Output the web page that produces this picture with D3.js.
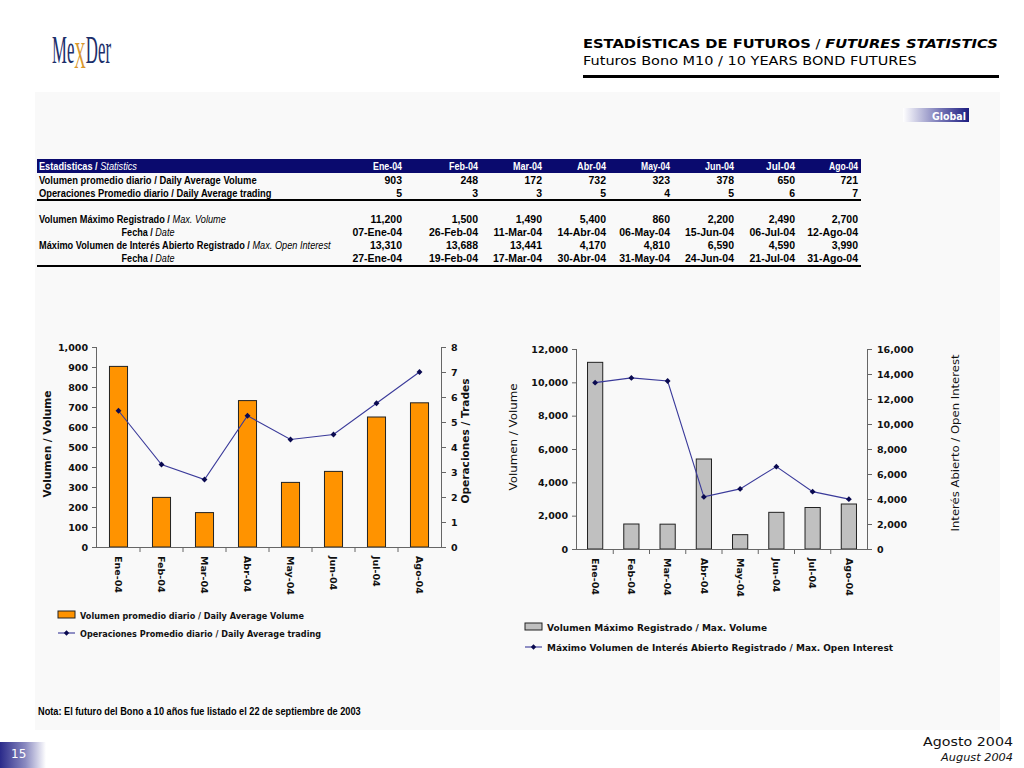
<!DOCTYPE html>
<html><head><meta charset="utf-8">
<script src="https://cdn.jsdelivr.net/npm/d3@7"></script>
<style>
html,body{margin:0;padding:0;background:#fff;}
svg{display:block;}
</style></head>
<body>
<svg id="c" width="1024" height="768"></svg>
<script>
// ---------- DATA ----------
const months = ["Ene-04","Feb-04","Mar-04","Abr-04","May-04","Jun-04","Jul-04","Ago-04"];
const avgVolume = [903,248,172,732,323,378,650,721];
const avgTradesTable = [5,3,3,5,4,5,6,7];
const avgTradesChart = [5.45,3.3,2.7,5.25,4.3,4.5,5.75,7.0];
const maxVolume = [11200,1500,1490,5400,860,2200,2490,2700];
const maxVolumeDate = ["07-Ene-04","26-Feb-04","11-Mar-04","14-Abr-04","06-May-04","15-Jun-04","06-Jul-04","12-Ago-04"];
const maxOI = [13310,13688,13441,4170,4810,6590,4590,3990];
const maxOIDate = ["27-Ene-04","19-Feb-04","17-Mar-04","30-Abr-04","31-May-04","24-Jun-04","21-Jul-04","31-Ago-04"];
const leftVolTicks = [0,100,200,300,400,500,600,700,800,900,1000];
const leftTradeTicks = [0,1,2,3,4,5,6,7,8];
const rightVolTicks = [0,2000,4000,6000,8000,10000,12000];
const rightOITicks = [0,2000,4000,6000,8000,10000,12000,14000,16000];

const svg = d3.select("#c");
const fmt = d3.format(",");
const defs = svg.append("defs");

// text scaled horizontally to a target width (keeps tspans from overlapping)
function fitText(parent, x, y, len, anchor){
  const g = parent.append("g");
  const t = g.append("text").attr("x",0).attr("y",0).attr("text-anchor",anchor||"start");
  t.fit = function(){
    const w = t.node().getComputedTextLength();
    g.attr("transform",`translate(${x},${y}) scale(${w>0?len/w:1},1)`);
    return t;
  };
  return t;
}

// ---------- BACKGROUND PANEL ----------
svg.append("rect").attr("x",35).attr("y",92).attr("width",965).attr("height",638).attr("fill","#f9f9f9");

// ---------- LOGO ----------
const lserif = "Liberation Serif, DejaVu Serif, serif";
const logo = fitText(svg, 52, 63, 59).attr("font-family",lserif).attr("font-size",40).attr("fill","#1c2f6b");
logo.append("tspan").text("Me");
logo.append("tspan").attr("fill","#d9982e").attr("font-size",38).attr("dy",5).text("X");
logo.append("tspan").attr("dy",-5).text("Der");
logo.fit();

// ---------- TITLE ----------
const t1 = fitText(svg, 583, 48, 415).attr("font-family","DejaVu Sans, Verdana, sans-serif").attr("font-size",13).attr("fill","#000");
t1.append("tspan").attr("font-weight","bold").text("ESTADÍSTICAS DE FUTUROS");
t1.append("tspan").text(" / ");
t1.append("tspan").attr("font-weight","bold").attr("font-style","italic").text("FUTURES STATISTICS");
t1.fit();
fitText(svg, 583, 65, 334).attr("font-family","DejaVu Sans, Verdana, sans-serif").attr("font-size",13)
  .text("Futuros Bono M10 / 10 YEARS BOND FUTURES").fit();
svg.append("rect").attr("x",583).attr("y",75).attr("width",416).attr("height",3).attr("fill","#000");

// ---------- GLOBAL BADGE ----------
const gg = defs.append("linearGradient").attr("id","gglob").attr("x1","0").attr("x2","1");
gg.append("stop").attr("offset","0").attr("stop-color","#ffffff");
gg.append("stop").attr("offset","0.55").attr("stop-color","#7a7ab8");
gg.append("stop").attr("offset","1").attr("stop-color","#1c1c80");
svg.append("rect").attr("x",903).attr("y",108).attr("width",66).attr("height",14).attr("fill","url(#gglob)");
fitText(svg, 966, 119.5, 34, "end").attr("font-family","DejaVu Sans, Verdana, sans-serif")
  .attr("font-weight","bold").attr("font-size",11).attr("fill","#fff").text("Global").fit();

// ---------- TABLE ----------
const colX = [402,478,542,606,670,734,795,858]; // right edges of month columns (layout)
const tfont = "Liberation Sans Narrow, Arial Narrow, Liberation Sans, sans-serif";
svg.append("rect").attr("x",37).attr("y",159).attr("width",824).attr("height",14).attr("fill","#0a0a6e");
const hdr = fitText(svg, 39, 170, 98).attr("font-family",tfont).attr("font-size",10.5).attr("fill","#fff");
hdr.append("tspan").attr("font-weight","bold").text("Estadisticas / ");
hdr.append("tspan").attr("font-style","italic").text("Statistics");
hdr.fit();
months.forEach((m,i)=>{
  fitText(svg, colX[i], 170, 29, "end").attr("font-family",tfont)
    .attr("font-weight","bold").attr("font-size",10.5).attr("fill","#fff").text(m).fit();
});
function tableRow(y, labelParts, values, len, center){
  const t = fitText(svg, center?148:39, y, len, center?"middle":"start").attr("font-family",tfont).attr("font-size",10.5).attr("fill","#000");
  labelParts.forEach(p=>{
    const s = t.append("tspan").text(p[0]);
    if(p[1]) s.attr("font-style","italic"); else s.attr("font-weight","bold");
  });
  t.fit();
  values.forEach((v,i)=>{
    svg.append("text").attr("x",colX[i]).attr("y",y).attr("text-anchor","end").attr("font-family",tfont)
      .attr("font-weight","bold").attr("font-size",10.5).attr("fill","#000").text(v);
  });
}
tableRow(184,[["Volumen promedio diario / Daily Average Volume"]], avgVolume.map(fmt), 218);
tableRow(197,[["Operaciones Promedio diario / Daily Average trading"]], avgTradesTable.map(fmt), 233);
svg.append("rect").attr("x",37).attr("y",199).attr("width",824).attr("height",2).attr("fill","#000");
tableRow(223,[["Volumen Máximo Registrado / "],["Max. Volume",true]], maxVolume.map(fmt), 187);
tableRow(236,[["Fecha / "],["Date",true]], maxVolumeDate, 53, true);
tableRow(249,[["Máximo Volumen de Interés Abierto Registrado / "],["Max. Open Interest",true]], maxOI.map(fmt), 292);
tableRow(262,[["Fecha / "],["Date",true]], maxOIDate, 53, true);
svg.append("rect").attr("x",37).attr("y",265).attr("width",824).attr("height",2).attr("fill","#000");

// ---------- CHART HELPER ----------
const cfont = "DejaVu Sans, Verdana, sans-serif";
function drawChart(o){
  const g = svg.append("g");
  const x = d3.scaleBand().domain(months).range([o.x0,o.x1]).paddingInner(0.58).paddingOuter(0.29);
  const yL = d3.scaleLinear().domain([0,o.lMax]).range([o.yb,o.yt]);
  const yR = d3.scaleLinear().domain([0,o.rMax]).range([o.yb,o.yt]);
  // bars
  g.selectAll("rect.bar").data(o.bars).join("rect").attr("class","bar")
    .attr("x",(d,i)=>x(months[i])).attr("width",x.bandwidth())
    .attr("y",d=>yL(d)).attr("height",d=>yL(0)-yL(d))
    .attr("fill",o.barColor).attr("stroke","#222").attr("stroke-width",1);
  // y axes
  const ax = g.append("g").attr("transform",`translate(${o.x0},0)`)
    .call(d3.axisLeft(yL).tickValues(o.lTicks).tickFormat(fmt).tickSize(5).tickPadding(4));
  const ar = g.append("g").attr("transform",`translate(${o.x1},0)`)
    .call(d3.axisRight(yR).tickValues(o.rTicks).tickFormat(fmt).tickSize(5).tickPadding(5));
  [ax,ar].forEach(a=>{
    a.select(".domain").attr("stroke","#666");
    a.selectAll(".tick line").attr("stroke","#666");
    a.selectAll(".tick text").attr("font-family",cfont).attr("font-weight","bold").attr("font-size",9.5).attr("fill","#111");
  });
  ax.select(".domain").attr("d",`M-0.5,${o.yt}V${o.yb}`);
  ar.select(".domain").attr("d",`M0.5,${o.yt}V${o.yb}`);
  // x axis
  const xa = g.append("g").attr("transform",`translate(0,${o.yb})`)
    .call(d3.axisBottom(x).tickSize(0).tickPadding(9).tickFormat(d=>d));
  xa.select(".domain").attr("stroke","#666").attr("d",`M${o.x0},0.5H${o.x1}`);
  xa.selectAll(".tick text").attr("font-family",cfont).attr("font-weight","bold").attr("font-size",9.5).attr("fill","#111")
    .attr("text-anchor","start").attr("transform","rotate(90)").attr("x",o.xlPad).attr("y",0).attr("dy","0.35em");
  const step = x.step();
  months.forEach((m,i)=>{
    if(i===0) return;
    const bx = x(m) - (step - x.bandwidth())/2;
    g.append("line").attr("x1",bx).attr("x2",bx).attr("y1",o.yb).attr("y2",o.yb+5).attr("stroke","#666");
  });
  // line series
  const line = d3.line().x((d,i)=>x(months[i])+x.bandwidth()/2).y(d=>yR(d));
  g.append("path").datum(o.line).attr("d",line).attr("fill","none").attr("stroke","#3a3a9a").attr("stroke-width",1.1);
  g.selectAll("path.mk").data(o.line).join("path").attr("class","mk")
    .attr("d",d3.symbol(d3.symbolDiamond2,22)())
    .attr("transform",(d,i)=>`translate(${x(months[i])+x.bandwidth()/2},${yR(d)})`).attr("fill","#0a0a50");
  // axis titles
  g.append("text").attr("transform",`translate(${o.ltX},${o.ltY}) rotate(-90)`).attr("text-anchor","middle")
    .attr("font-family",cfont).attr("font-weight",o.titleWeight).attr("font-size",10).attr("fill","#111")
    .attr("textLength",o.ltLen).attr("lengthAdjust","spacingAndGlyphs").text(o.lTitle);
  g.append("text").attr("transform",`translate(${o.rtX},${o.rtY}) rotate(-90)`).attr("text-anchor","middle")
    .attr("font-family",cfont).attr("font-weight",o.titleWeight).attr("font-size",10).attr("fill","#111")
    .attr("textLength",o.rtLen).attr("lengthAdjust","spacingAndGlyphs").text(o.rTitle);
  // legend
  const lg = svg.append("g");
  lg.append("rect").attr("x",o.lgX).attr("y",o.lgY-4).attr("width",17).attr("height",7)
    .attr("fill",o.barColor).attr("stroke","#222");
  lg.append("text").attr("x",o.lgX+22).attr("y",o.lgY+3.5).attr("font-family",cfont).attr("font-weight","bold").attr("font-size",9.5)
    .attr("fill","#111").attr("textLength",o.lg1Len).attr("lengthAdjust","spacingAndGlyphs").text(o.lg1);
  const y2 = o.lgY + o.lgGap;
  lg.append("line").attr("x1",o.lgX).attr("x2",o.lgX+17).attr("y1",y2).attr("y2",y2).attr("stroke","#3a3a9a").attr("stroke-width",1.1);
  lg.append("path").attr("d",d3.symbol(d3.symbolDiamond2,18)()).attr("transform",`translate(${o.lgX+8.5},${y2})`).attr("fill","#0a0a50");
  lg.append("text").attr("x",o.lgX+22).attr("y",y2+3.5).attr("font-family",cfont).attr("font-weight","bold").attr("font-size",9.5)
    .attr("fill","#111").attr("textLength",o.lg2Len).attr("lengthAdjust","spacingAndGlyphs").text(o.lg2);
}

drawChart({
  x0:97, x1:441, yt:347, yb:547, lMax:1000, rMax:8,
  bars:avgVolume, line:avgTradesChart, lTicks:leftVolTicks, rTicks:leftTradeTicks,
  barColor:"#ff9300", xlPad:9,
  lTitle:"Volumen / Volume", ltX:51, ltY:444, ltLen:107,
  rTitle:"Operaciones / Trades", rtX:469, rtY:441, rtLen:125, titleWeight:"bold",
  lgX:58, lgY:615, lgGap:18,
  lg1:"Volumen promedio diario / Daily Average Volume", lg1Len:224,
  lg2:"Operaciones Promedio diario / Daily Average trading", lg2Len:241
});
drawChart({
  x0:577, x1:867, yt:349, yb:549, lMax:12000, rMax:16000,
  bars:maxVolume, line:maxOI, lTicks:rightVolTicks, rTicks:rightOITicks,
  barColor:"#c0c0c0", xlPad:9,
  lTitle:"Volumen / Volume", ltX:517, ltY:437, ltLen:107,
  rTitle:"Interés Abierto / Open Interest", rtX:959, rtY:443, rtLen:177, titleWeight:"normal",
  lgX:525, lgY:627, lgGap:20,
  lg1:"Volumen Máximo Registrado / Max. Volume", lg1Len:220,
  lg2:"Máximo Volumen de Interés Abierto Registrado / Max. Open Interest", lg2Len:346
});

// ---------- NOTE ----------
fitText(svg, 38, 715, 323).attr("font-family",tfont).attr("font-weight","bold").attr("font-size",10.5)
  .attr("fill","#000").text("Nota: El futuro del Bono a 10 años fue listado el 22 de septiembre de 2003").fit();

// ---------- FOOTER ----------
fitText(svg, 1013, 746, 90, "end").attr("font-family","DejaVu Sans, Verdana, sans-serif")
  .attr("font-size",13).attr("fill","#111").text("Agosto 2004").fit();
fitText(svg, 1013, 761, 72, "end").attr("font-family","DejaVu Sans, Verdana, sans-serif")
  .attr("font-style","italic").attr("font-size",11).attr("fill","#111").text("August 2004").fit();
const pg = defs.append("linearGradient").attr("id","gpage").attr("x1","0").attr("x2","1");
pg.append("stop").attr("offset","0").attr("stop-color","#2a2a8a");
pg.append("stop").attr("offset","0.55").attr("stop-color","#8a8ac0");
pg.append("stop").attr("offset","1").attr("stop-color","#ffffff");
svg.append("rect").attr("x",0).attr("y",742).attr("width",46).attr("height",26).attr("fill","url(#gpage)");
svg.append("text").attr("x",11).attr("y",758).attr("font-family","DejaVu Sans, Verdana, sans-serif")
  .attr("font-size",12).attr("fill","#fff").text("15");
</script>
</body></html>
